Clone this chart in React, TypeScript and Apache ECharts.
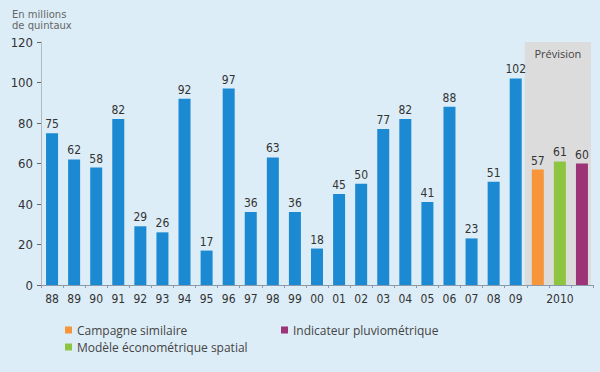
import React, { useEffect, useRef } from "react";
import * as echarts from "echarts";

const years = ["88","89","90","91","92","93","94","95","96","97","98","99","00","01","02","03","04","05","06","07","08","09"];
const forecastLabels = ["", "2010", ""];
const histValues = [75, 62, 58, 82, 29, 26, 92, 17, 97, 36, 63, 36, 18, 45, 50, 77, 82, 41, 88, 23, 51, 102];
const campagneSimilaire = 57;
const modeleEconometrique = 61;
const indicateurPluvio = 60;
const yTicks = [0, 20, 40, 60, 80, 100, 120];

const categories = [...years, ...forecastLabels];
const N = categories.length;

export default function App() {
  const ref = useRef<HTMLDivElement>(null);
  useEffect(() => {
    if (!ref.current) return;
    const chart = echarts.init(ref.current, null, { renderer: "svg" });
    const W = 600, H = 372;
    const gLeft = 41, gRight = 7, gTop = 42, gBottom = 87;
    const plotW = W - gLeft - gRight;
    const slot = plotW / N;
    const pad = (arr: (number | null)[]) => arr;
    const histData = pad([...histValues, null, null, null]);
    const only = (idx: number, v: number) => categories.map((_, i) => (i === idx ? v : null));
    const label = {
      show: true,
      position: "top" as const,
      distance: 3,
      color: "#333",
      fontSize: 12,
      fontFamily: "Liberation Sans Narrow, DejaVu Sans Condensed, Arial, sans-serif",
    };
    const legendText = { color: "#444", fontSize: 12, fontFamily: "Open Sans, sans-serif" };
    chart.setOption({
      animation: false,
      backgroundColor: "#dcedf7",
      grid: { left: gLeft, right: gRight, top: gTop, bottom: gBottom },
      graphic: [
        {
          type: "rect",
          z: -1,
          silent: true,
          shape: { x: gLeft + 22 * slot - 2, y: gTop, width: 3 * slot, height: H - gTop - gBottom },
          style: { fill: "#dcdcdc" },
        },
        {
          type: "text",
          x: gLeft + 22 * slot - 2 + 1.5 * slot,
          y: gTop + 6,
          style: { text: "Prévision", fill: "#444", fontSize: 11, fontFamily: "Open Sans, sans-serif", textAlign: "center" },
        },
        {
          type: "text",
          x: 12,
          y: 9,
          style: { text: "En millions\nde quintaux", fill: "#666", fontSize: 10, lineHeight: 11, fontFamily: "DejaVu Sans, sans-serif" },
        },
      ],
      legend: [
        {
          left: 60, top: 319, orient: "vertical", itemGap: 5, itemWidth: 7, itemHeight: 7, icon: "rect",
          textStyle: legendText,
          data: ["Campagne similaire", "Modèle économétrique spatial"],
        },
        {
          left: 276, top: 319, orient: "vertical", itemGap: 5, itemWidth: 7, itemHeight: 7, icon: "rect",
          textStyle: legendText,
          data: ["Indicateur pluviométrique"],
        },
      ],
      xAxis: {
        type: "category",
        data: categories,
        axisLine: { lineStyle: { color: "#8a9aa8", width: 1 } },
        axisTick: { show: true, alignWithLabel: false, length: 3, lineStyle: { color: "#8a9aa8" } },
        axisLabel: { color: "#333", fontSize: 12, margin: 8, interval: 0, fontFamily: "Liberation Sans Narrow, DejaVu Sans Condensed, sans-serif" },
      },
      yAxis: {
        type: "value",
        min: yTicks[0],
        max: yTicks[yTicks.length - 1],
        interval: 20,
        splitLine: { show: false },
        axisLine: { show: true, lineStyle: { color: "#b0b8c0" } },
        axisTick: { show: true, length: 4, lineStyle: { color: "#666" } },
        axisLabel: { color: "#333", fontSize: 13, margin: 8, fontFamily: "Liberation Sans Narrow, DejaVu Sans Condensed, sans-serif" },
      },
      series: [
        { name: "Historique", type: "bar", stack: "t", barWidth: 12, data: histData, itemStyle: { color: "#1b8ad3" }, label },
        { name: "Campagne similaire", type: "bar", stack: "t", barWidth: 12, data: only(22, campagneSimilaire), itemStyle: { color: "#f7953a" }, label },
        { name: "Modèle économétrique spatial", type: "bar", stack: "t", barWidth: 12, data: only(23, modeleEconometrique), itemStyle: { color: "#8dc540" }, label },
        { name: "Indicateur pluviométrique", type: "bar", stack: "t", barWidth: 12, data: only(24, indicateurPluvio), itemStyle: { color: "#9c3577" }, label },
      ],
    });
    return () => chart.dispose();
  }, []);
  return <div ref={ref} style={{ width: 600, height: 372, position: "absolute", left: 0, top: 0 }} />;
}
